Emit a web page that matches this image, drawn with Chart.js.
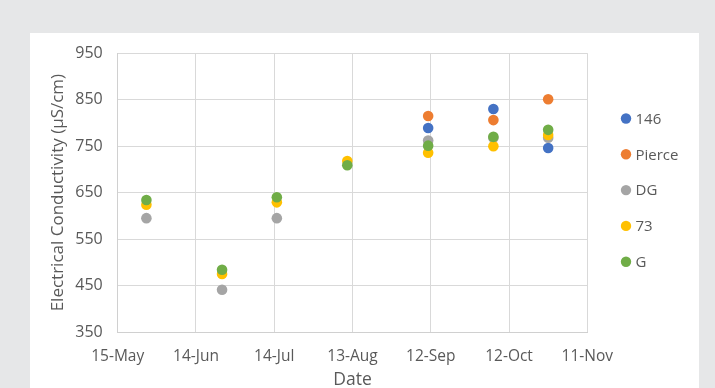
<!DOCTYPE html>
<html>
<head>
<meta charset="utf-8">
<script src="https://cdn.jsdelivr.net/npm/chart.js@4.4.0/dist/chart.umd.min.js"></script>
<style>
  html, body { margin: 0; padding: 0; overflow: hidden; }
  body { width: 715px; height: 388px; background: #e6e7e8; position: relative; }
  #panel { position: absolute; left: 30px; top: 33px; width: 669px; height: 372px; background: #fff; }
  #myChart { position: absolute; left: 0; top: 0; }
</style>
</head>
<body>
<div id="panel"><canvas id="myChart" width="669" height="372"></canvas></div>
<script>
// sampling dates and values per site
const sampleDates = ['2018-05-26', '2018-06-24', '2018-07-15', '2018-08-11', '2018-09-11', '2018-10-06', '2018-10-27'];
const site146 = [null, null, null, null, 789, 830, 746];
const sitePierce = [null, null, null, null, 815, 806, 851];
const siteDG = [595, 441, 595, null, 762, 768, 768];
const site73 = [624, 475, 629, 718, 736, 750, 774];
const siteG = [634, 484, 640, 709, 751, 770, 785];

const seriesNames = ['146', 'Pierce', 'DG', '73', 'G'];
const seriesColors = ['#4472C4', '#ED7D31', '#A5A5A5', '#FFC000', '#70AD47'];

// x axis: ticks every 30 days from 15-May
const tickStart = '2018-05-15';
const tickLabels = ['15-May', '14-Jun', '14-Jul', '13-Aug', '12-Sep', '12-Oct', '11-Nov'];
const yMin = 350, yMax = 950, yStep = 100;

function dayNum(d) {
    return (Date.parse(d) - Date.parse(tickStart)) / 86400000;
}

function toPoints(values) {
    let pts = [];
    for (let i = 0; i < values.length; i++) {
        if (values[i] !== null) pts.push({x: dayNum(sampleDates[i]), y: values[i]});
    }
    return pts;
}

const allValues = [site146, sitePierce, siteDG, site73, siteG];
const FONT = "'Open Sans', sans-serif";
const TXT = '#595959';

let datasets = [];
for (let i = 0; i < allValues.length; i++) {
    datasets.push({
        label: seriesNames[i],
        data: toPoints(allValues[i]),
        backgroundColor: seriesColors[i],
        borderColor: seriesColors[i],
        pointRadius: 5.3,
        pointHoverRadius: 5.3,
        borderWidth: 0,
        order: allValues.length - i  // later series on top
    });
}

// legend on the right, drawn by hand
const sideLegend = {
    id: 'sideLegend',
    afterDraw(chart) {
        const c = chart.ctx;
        c.save();
        c.font = '15px ' + FONT;
        c.textBaseline = 'middle';
        c.textAlign = 'left';
        for (let i = 0; i < seriesNames.length; i++) {
            let y = 85.5 + i * 35.8;
            c.fillStyle = seriesColors[i];
            c.beginPath();
            c.arc(596, y, 5.2, 0, Math.PI * 2);
            c.fill();
            c.fillStyle = TXT;
            c.fillText(seriesNames[i], 605.5, y + 1);
        }
        c.restore();
    }
};

const ctx = document.getElementById('myChart').getContext('2d');
const myChart = new Chart(ctx, {
    type: 'scatter',
    data: { datasets: datasets },
    options: {
        responsive: false,
        animation: false,
        layout: { padding: { left: 0, top: 20.2, right: 111.7, bottom: 0 } },
        plugins: { legend: { display: false }, tooltip: { enabled: false } },
        scales: {
            x: {
                type: 'linear',
                min: 0,
                max: 180,
                afterFit: (s) => { s.height = 73; },
                afterBuildTicks: (s) => {
                    s.ticks = tickLabels.map((t, i) => ({value: i * 30}));
                },
                ticks: {
                    padding: 15,
                    color: TXT,
                    font: {family: FONT, size: 15.5},
                    maxRotation: 0,
                    callback: (v) => tickLabels[Math.round(v / 30)]
                },
                grid: { color: '#d9d9d9', lineWidth: 1, drawTicks: false },
                border: { color: '#d0d0d0' },
                title: {
                    display: true,
                    text: 'Date',
                    color: TXT,
                    font: {family: FONT, size: 17.5},
                    padding: {top: 0, bottom: 14}
                }
            },
            y: {
                min: yMin,
                max: yMax,
                afterFit: (s) => {
                    s.width = 87.7;
                    s.paddingTop = 5;
                    s.paddingBottom = 5;
                },
                ticks: {
                    stepSize: yStep,
                    padding: 15,
                    color: TXT,
                    font: {family: FONT, size: 16}
                },
                grid: { color: '#d9d9d9', lineWidth: 1, drawTicks: false },
                border: { color: '#d0d0d0' },
                title: {
                    display: true,
                    text: 'Electrical Conductivity (µS/cm)',
                    color: TXT,
                    font: {family: FONT, size: 17},
                    padding: {top: 18, bottom: 0}
                }
            }
        }
    },
    plugins: [sideLegend]
});
</script>
</body>
</html>
